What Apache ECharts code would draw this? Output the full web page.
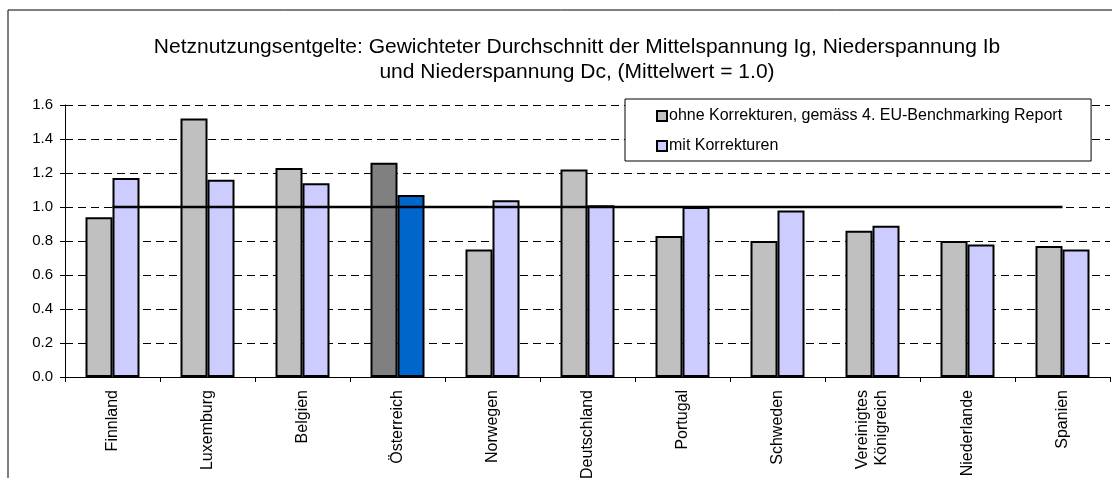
<!DOCTYPE html>
<html>
<head>
<meta charset="utf-8">
<script src="https://cdn.jsdelivr.net/npm/echarts@6/dist/echarts.min.js"></script>
<style>
html,body{margin:0;padding:0;background:#fff;}
#chart{width:1112px;height:478px;}
</style>
</head>
<body>
<div id="chart"></div>
<script>
const categories = ['Finnland','Luxemburg','Belgien','Österreich','Norwegen','Deutschland','Portugal','Schweden','Vereinigtes\nKönigreich','Niederlande','Spanien'];
const ohneKorrekturen = [0.94,1.52,1.23,1.26,0.75,1.22,0.83,0.80,0.86,0.80,0.77];
const mitKorrekturen = [1.17,1.16,1.14,1.07,1.04,1.01,1.00,0.98,0.89,0.78,0.75];
const mittelwert = [1.0,1.0,1.0,1.0,1.0,1.0,1.0,1.0,1.0,1.0,1.0];
const seriesNames = ['ohne Korrekturen, gemäss 4. EU-Benchmarking Report','mit Korrekturen'];
const titleText = 'Netznutzungsentgelte: Gewichteter Durchschnitt der Mittelspannung Ig, Niederspannung Ib\nund Niederspannung Dc, (Mittelwert = 1.0)';
const highlight = 'Österreich';

const FONT = '"Liberation Sans", Arial, sans-serif';
const chart = echarts.init(document.getElementById('chart'), null, {renderer:'canvas'});

function mk(vals, hlColor){
  return vals.map((v,i)=> categories[i]===highlight ? {value:v, itemStyle:{color:hlColor}} : v);
}

chart.setOption({
  animation:false,
  backgroundColor:'#fff',
  textStyle:{fontFamily:FONT},
  graphic:[{type:'rect', shape:{x:8,y:10,width:1300,height:700}, style:{fill:'none',stroke:'#000',lineWidth:1}, silent:true, z:-1}],
  title:{
    text:titleText, left:572, top:30, textAlign:'center',
    textStyle:{fontFamily:FONT, fontSize:21, fontWeight:'normal', color:'#000', lineHeight:25}
  },
  legend:{
    data:seriesNames, orient:'vertical', left:625, top:99,
    padding:[9,29,7,31], itemGap:14, itemWidth:10, itemHeight:10, icon:'rect',
    backgroundColor:'#fff', borderColor:'#000', borderWidth:1,
    textStyle:{fontFamily:FONT, fontSize:16, color:'#000', padding:[0,0,0,-3]}
  },
  grid:{left:65, right:2, top:105, bottom:101, containLabel:false, outerBoundsMode:'none'},
  xAxis:{
    type:'category', data:categories,
    axisLine:{lineStyle:{color:'#000',width:1}},
    axisTick:{show:true, length:5, lineStyle:{color:'#000'}},
    axisLabel:{rotate:90, margin:13, fontFamily:FONT, fontSize:16, color:'#000', interval:0, align:'right', verticalAlign:'middle', lineHeight:19}
  },
  yAxis:{
    type:'value', min:0, max:1.6, interval:0.2,
    axisLine:{show:true, lineStyle:{color:'#000',width:1}},
    axisTick:{show:true, length:5, lineStyle:{color:'#000'}},
    axisLabel:{formatter:v=>v.toFixed(1), fontFamily:FONT, fontSize:15, color:'#000', margin:12},
    splitLine:{show:true, lineStyle:{color:'#000', type:[8,5], width:1}}
  },
  series:[
    {name:seriesNames[0], type:'bar', data:mk(ohneKorrekturen,'#808080'), barWidth:27, barGap:'0%',
     itemStyle:{color:'#C0C0C0', borderColor:'#000', borderWidth:2}},
    {name:seriesNames[1], type:'bar', data:mk(mitKorrekturen,'#0066CC'), barWidth:27, barGap:'0%',
     itemStyle:{color:'#CCCCFF', borderColor:'#000', borderWidth:2}},
    {name:'Mittelwert', type:'line', data:mittelwert, symbol:'none', z:5,
     lineStyle:{color:'#000', width:2.5}, itemStyle:{color:'#000'}}
  ]
});
</script>
</body>
</html>
